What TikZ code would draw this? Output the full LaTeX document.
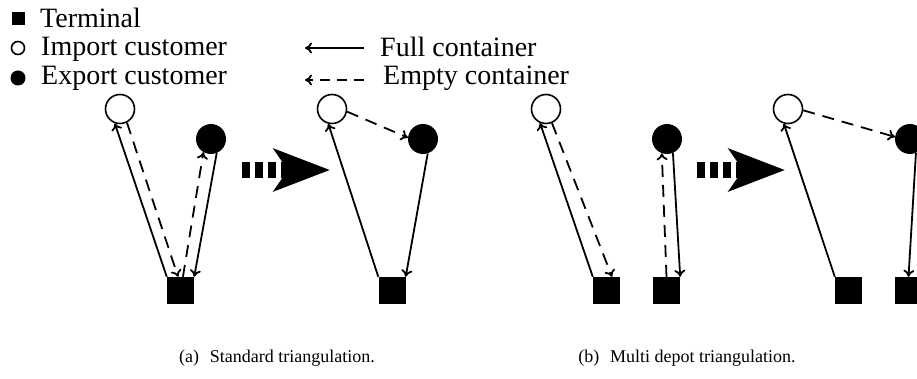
\documentclass[tikz,border=0pt]{standalone}
\usepackage{fontspec}
\setmainfont{Liberation Serif}
\usetikzlibrary{arrows.meta}

\begin{document}
\begin{tikzpicture}[x=1pt,y=-1pt,
  term/.style={fill=black,minimum size=27pt,inner sep=0pt},
  imp/.style={circle,draw,line width=1.6pt,minimum size=29pt,inner sep=0pt},
  exp/.style={circle,fill=black,minimum size=30pt,inner sep=0pt},
  full/.style={line width=1.8pt,-{To[length=7pt,width=11pt]}},
  empty/.style={full,dash pattern=on 12pt off 8pt},
  bigarrow/.style={line width=16pt,dash pattern=on 8pt off 5pt,
    -{Stealth[length=56pt,width=42pt,inset=14pt]}},
  txt/.style={font=\fontsize{28}{34}\selectfont,anchor=base west,inner sep=0pt},
  captxt/.style={font=\fontsize{18}{22}\selectfont,anchor=base,inner sep=0pt}]
\useasboundingbox (0,0) rectangle (917,379);
\clip (0,0) rectangle (917,379);
% legend
\node[fill=black,minimum size=13pt,inner sep=0pt] (kT) at (18,19) {};
\node[circle,draw,line width=1.6pt,minimum size=13pt,inner sep=0pt] (kI) at (18,48) {};
\node[circle,fill=black,minimum size=15pt,inner sep=0pt] (kE) at (18,78) {};
\node[txt] (tT) at (40,28) {Terminal};
\node[txt] (tI) at (41,56) {Import customer};
\node[txt] (tE) at (41,85) {Export customer};
\coordinate (fA) at (364,48);
\coordinate (fB) at (305,48);
\coordinate (eA) at (364,80);
\coordinate (eB) at (305,80);
\draw[full] (fA) -- (fB);
\draw[empty,dash pattern=on 10pt off 7pt] (eA) -- (eB);
\node[txt] (tF) at (380,57) {Full container};
\node[txt] (tM) at (383,85) {Empty container};
% (a) standard
\node[imp] (I1) at (120,109) {};
\node[exp] (E1) at (211,139) {};
\node[term] (T1) at (180.5,290.5) {};
\draw[full] (T1.north west) -- (I1.250);
\draw[empty] (I1.297) -- (T1.100);
\draw[empty] (T1.80) -- (E1.240);
\draw[full] (E1.292) -- (T1.north east);
%
\coordinate (a1) at (242,170);
\coordinate (a2) at (330,170);
\draw[bigarrow] (a1) -- (a2);
%
\node[imp] (I2) at (332,109) {};
\node[exp] (E2) at (423,139) {};
\node[term] (T2) at (392,290.5) {};
\draw[full] (T2.north west) -- (I2.256);
\draw[empty] (I2.-10) -- (E2.175);
\draw[full] (E2.288) -- (T2.north east);
% (b) multi depot
\node[imp] (I3) at (546,109) {};
\node[exp] (E3) at (667,139) {};
\node[term] (T3) at (606.5,290.5) {};
\node[term] (T4) at (666.5,290.5) {};
\draw[full] (T3.north west) -- (I3.247);
\draw[empty] (I3.293) -- (T3.68);
\draw[empty] (T4.north) -- (E3.250);
\draw[full] (E3.293) -- (T4.north east);
%
\coordinate (b1) at (697,170);
\coordinate (b2) at (785,170);
\draw[bigarrow] (b1) -- (b2);
%
\node[imp] (I4) at (788,109) {};
\node[exp] (E4) at (910,139) {};
\node[term] (T5) at (848.5,290.5) {};
\node[term] (T6) at (908.5,290.5) {};
\draw[full] (T5.north west) -- (I4.254);
\draw[empty] (I4.-5) -- (E4.172);
\draw[full] (E4.293) -- (T6.north);
% captions
\node[captxt] (capa) at (277,362) {(a)\hspace{0.6em}Standard triangulation.};
\node[captxt] (capb) at (687,362) {(b)\hspace{0.6em}Multi depot triangulation.};
\end{tikzpicture}
\end{document}
